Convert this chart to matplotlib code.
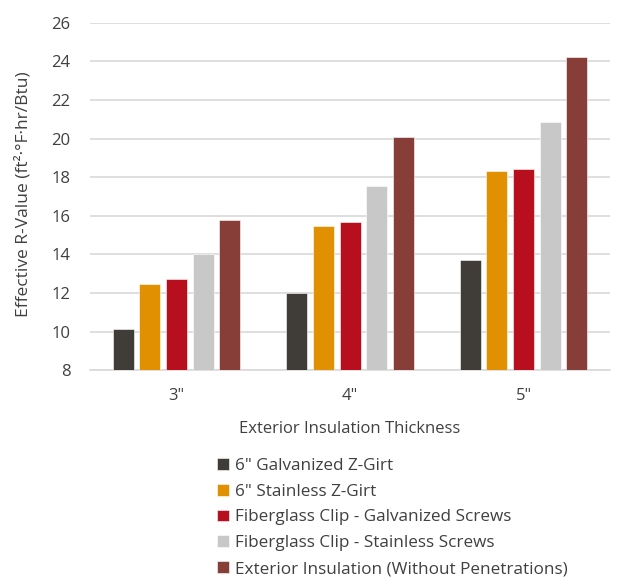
import numpy as np
import matplotlib
matplotlib.use('Agg')
import matplotlib.pyplot as plt

plt.rcParams['font.family'] = ['Open Sans', 'DejaVu Sans']

# effective R-value for each clip / girt system by insulation thickness
thickness = ['3"', '4"', '5"']
series = [
    '6" Galvanized Z-Girt',
    '6" Stainless Z-Girt',
    'Fiberglass Clip - Galvanized Screws',
    'Fiberglass Clip - Stainless Screws',
    'Exterior Insulation (Without Penetrations)',
]
galv_zgirt = [10.13, 12.0, 13.70]
stainless_zgirt = [12.45, 15.47, 18.33]
clip_galv = [12.73, 15.68, 18.42]
clip_stainless = [14.0, 17.53, 20.84]
no_penetrations = [15.78, 20.10, 24.24]
values = [galv_zgirt, stainless_zgirt, clip_galv, clip_stainless, no_penetrations]
colors = ['#403c37', '#e09000', '#b70f1d', '#c8c8c8', '#873d38']

text_color = '#404040'
grid_color = '#d9d9d9'

fig = plt.figure(figsize=(6.37, 5.84), dpi=100)
ax = fig.add_axes([0.141, 0.366, 0.817, 0.595])

x = np.arange(len(thickness))
step = 0.154
width = 0.121
for i, (vals, name, c) in enumerate(zip(values, series, colors)):
    ax.bar(x + (i - 2) * step, vals, width, color=c, label=name,
           edgecolor='white', linewidth=0.4, zorder=3)

ax.set_xlim(-0.5, 2.5)
ax.set_ylim(8, 26)
ax.set_yticks(np.arange(8, 27, 2))
ax.set_xticks(x)
ax.set_xticklabels(thickness)
ax.grid(axis='y', color=grid_color, linewidth=1.2, zorder=0)
for s in ['top', 'right', 'left']:
    ax.spines[s].set_visible(False)
ax.spines['bottom'].set_color(grid_color)
ax.spines['bottom'].set_linewidth(1.2)
ax.tick_params(axis='both', length=0, labelsize=12, colors=text_color)
ax.tick_params(axis='y', pad=14)
ax.tick_params(axis='x', pad=13)

ax.set_ylabel('Effective R-Value (ft\u00b2\u00b7\u00b0F\u00b7hr/Btu)', fontsize=12.5,
              color=text_color)
ax.yaxis.set_label_coords(-0.113, 0.508)
ax.set_xlabel('Exterior Insulation Thickness', fontsize=12, color=text_color,
              labelpad=12)

handles, labels = ax.get_legend_handles_labels()
leg = fig.legend(handles, labels, loc='upper left',
                 bbox_to_anchor=(0.33, 0.228), frameon=False, fontsize=12.3,
                 handlelength=0.7, handleheight=0.7, handletextpad=0.35,
                 labelspacing=0.58, borderaxespad=0)
for t in leg.get_texts():
    t.set_color(text_color)

fig.savefig('out.png', dpi=100)
